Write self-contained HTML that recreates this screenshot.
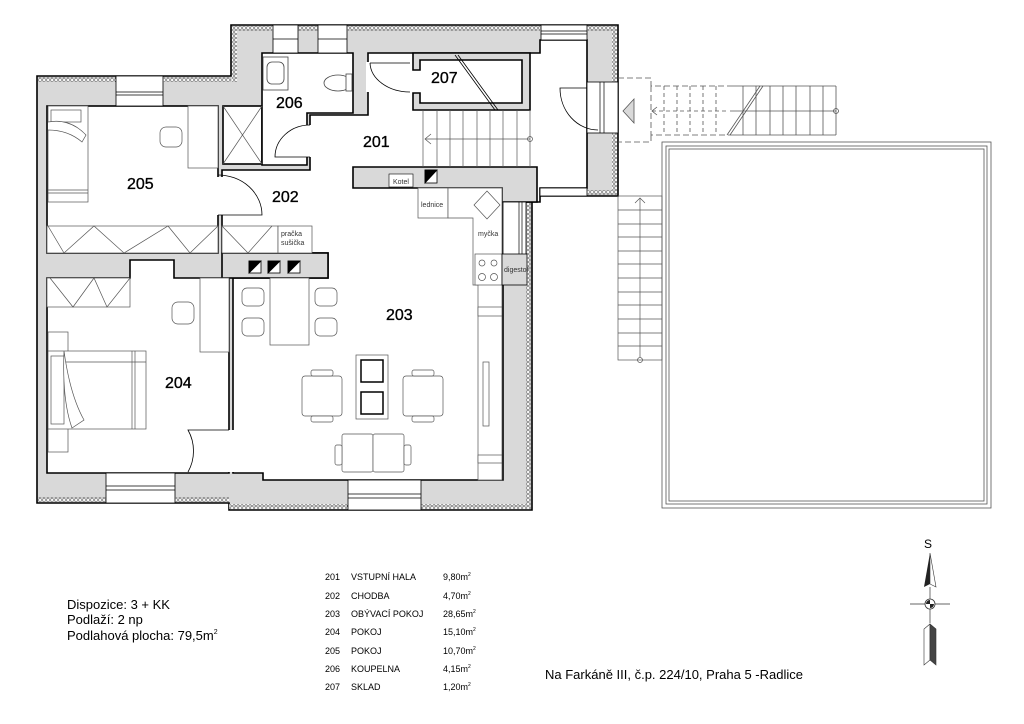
<!DOCTYPE html>
<html><head><meta charset="utf-8"><style>
html,body{margin:0;padding:0;background:#fff;}
svg{display:block;font-family:"Liberation Sans",Arial,sans-serif;}
</style></head><body>
<svg width="1024" height="724" viewBox="0 0 1024 724" xmlns="http://www.w3.org/2000/svg">
<defs>
<pattern id="h" width="4" height="4" patternUnits="userSpaceOnUse"><rect width="4" height="4" fill="#fff"/><circle cx="2" cy="2" r="1.3" fill="none" stroke="#444" stroke-width="0.7"/></pattern>
</defs>
<g stroke="#000" stroke-width="1.6" fill="#d9d9d9">
<polygon points="37,76 231,76 231,25 618,25 618,196 532,196 532,510 229,510 229,503 37,503"/>
</g>
<g fill="url(#h)" stroke="none">
<rect x="38" y="77" width="78" height="5"/>
<rect x="163" y="77" width="68" height="5"/>
<rect x="232" y="26" width="5" height="56"/>
<rect x="232" y="26" width="41" height="5"/>
<rect x="298" y="26" width="20" height="5"/>
<rect x="347" y="26" width="193" height="5"/>
<rect x="587" y="26" width="30" height="5"/>
<rect x="612" y="26" width="5" height="56"/>
<rect x="612" y="133" width="5" height="62"/>
<rect x="587" y="190" width="30" height="5"/>
<rect x="526" y="196" width="5" height="313"/>
<rect x="38" y="497" width="68" height="5"/>
<rect x="175" y="497" width="54" height="5"/>
<rect x="229" y="504" width="119" height="5"/>
<rect x="421" y="504" width="110" height="5"/>
</g>
<g stroke="#000" stroke-width="1.6" fill="#fff">
<rect x="47" y="106" width="171" height="147"/>
<rect x="223" y="106" width="39" height="58"/>
<polygon points="262,53 353,53 353,113 307,113 307,165 262,165"/>
<polygon points="222,170 310,170 310,115 368,115 368,53 540,53 540,40 587,40 587,188 540,188 540,202 503,202 503,480 263,480 263,473 233,473 233,278 328,278 328,253 222,253"/>
<polygon points="47,278 130,278 130,260 174,260 174,278 229,278 229,473 47,473"/>
</g>
<g stroke="#000" stroke-width="1.6">
<polygon points="413,53 530,53 530,110 413,110 413,93 420,93 420,103 522,103 522,60 420,60 420,70 413,70" fill="#d9d9d9"/>
</g>
<line x1="455" y1="55" x2="495" y2="110" stroke="#000" stroke-width="0.8"/>
<line x1="458" y1="55" x2="498" y2="110" stroke="#000" stroke-width="0.8"/>
<polygon points="353,167 537,167 537,202 502,202 502,188 353,188" fill="#d9d9d9" stroke="#000" stroke-width="1.6"/>
<rect x="222" y="253" width="106" height="25" fill="#d9d9d9" stroke="#000" stroke-width="1.6"/>
<g fill="#fff" stroke="none">
<rect x="216" y="177" width="8" height="38"/>
<rect x="305" y="125" width="7" height="32"/>
<rect x="227" y="430" width="8" height="42"/>
<rect x="366" y="62" width="4" height="30"/>
</g>
<g fill="#fff" stroke="#000" stroke-width="0.8">
<rect x="116" y="76" width="47" height="30"/>
<rect x="273" y="25" width="25" height="28"/>
<rect x="318" y="25" width="29" height="28"/>
<rect x="541" y="25" width="46" height="15"/>
<rect x="587" y="82" width="31" height="51"/>
<rect x="540" y="188" width="47" height="8"/>
<rect x="106" y="473" width="69" height="30"/>
<rect x="348" y="480" width="73" height="30"/>
<rect x="503" y="202" width="23" height="53"/>
</g>
<g stroke="#000" stroke-width="0.7">
<line x1="116" y1="92" x2="163" y2="92"/><line x1="116" y1="95" x2="163" y2="95"/>
<line x1="273" y1="39" x2="298" y2="39"/><line x1="318" y1="39" x2="347" y2="39"/>
<line x1="541" y1="31" x2="587" y2="31"/><line x1="541" y1="34" x2="587" y2="34"/>
<line x1="600" y1="82" x2="600" y2="133"/><line x1="604" y1="82" x2="604" y2="133"/>
<line x1="106" y1="486" x2="175" y2="486"/><line x1="106" y1="490" x2="175" y2="490"/>
<line x1="348" y1="494" x2="421" y2="494"/><line x1="348" y1="498" x2="421" y2="498"/>
<line x1="519" y1="202" x2="519" y2="255"/><line x1="522" y1="202" x2="522" y2="255"/>
</g>
<g fill="none" stroke="#000" stroke-width="0.8">
<path d="M218,215 L262,215 A44,40 0 0 0 218,175"/>
<path d="M310,157 L275,157 A35,32 0 0 1 310,125"/>
<path d="M229,430 L188,430 A41,42 0 0 1 188,472"/>
<path d="M370,63 L410,63 M370,63 A40,30 0 0 0 410,92"/>
<path d="M587,88 L560,88 A38,42 0 0 0 598,130"/>
</g>
<g stroke="#555" stroke-width="0.7" fill="none">
<line x1="423" y1="110" x2="423" y2="167"/><line x1="437" y1="110" x2="437" y2="167"/><line x1="450" y1="110" x2="450" y2="167"/><line x1="463" y1="110" x2="463" y2="167"/><line x1="477" y1="110" x2="477" y2="167"/><line x1="490" y1="110" x2="490" y2="167"/><line x1="503" y1="110" x2="503" y2="167"/><line x1="517" y1="110" x2="517" y2="167"/><line x1="530" y1="110" x2="530" y2="167"/>
<line x1="425" y1="139" x2="530" y2="139"/><circle cx="530" cy="139" r="2.5"/>
<path d="M431,134 L425,139 L431,144"/>
</g>
<g stroke="#555" stroke-width="0.7" fill="none"><line x1="223" y1="106" x2="262" y2="164"/><line x1="262" y1="106" x2="223" y2="164"/></g>
<g stroke="#444" stroke-width="0.8" fill="#fff">
<rect x="263" y="57" width="25" height="33"/><rect x="267" y="62" width="17" height="22" rx="5"/>
<ellipse cx="338" cy="83" rx="14" ry="8"/><rect x="346" y="74" width="6" height="17"/>
</g>
<g stroke="#555" stroke-width="0.7" fill="#fff">
<rect x="48" y="106" width="40" height="96"/>
<rect x="51" y="110" width="30" height="12"/>
<path d="M48,122 Q70,118 86,135 L82,142 Q68,130 48,130"/>
<line x1="48" y1="190" x2="88" y2="190"/><line x1="48" y1="193" x2="88" y2="193"/>
<rect x="188" y="106" width="30" height="62"/>
<rect x="160" y="127" width="22" height="20" rx="6"/>
<rect x="47" y="226" width="171" height="27"/>
<rect x="222" y="226" width="56" height="27"/>
<rect x="278" y="226" width="34" height="27"/>
<rect x="47" y="278" width="83" height="29"/>
<rect x="200" y="278" width="29" height="74"/>
<rect x="172" y="302" width="22" height="22" rx="6"/>
</g>
<g stroke="#555" stroke-width="0.7" fill="none">
<path d="M48,226 L64,253 L94,226 L124,253 L168,226 L190,253 L218,226"/>
<path d="M222,226 L248,253 L272,226"/>
<path d="M50,278 L73,307 L94,278 L107,307 L130,278"/>
</g>
<g stroke="#555" stroke-width="0.7" fill="#fff">
<rect x="48" y="332" width="20" height="120"/>
<rect x="48" y="351" width="98" height="78"/>
<rect x="51" y="356" width="13" height="68"/>
<path d="M64,351 Q70,395 84,420 L72,428 Q62,400 64,351"/>
<line x1="132" y1="351" x2="132" y2="429"/><line x1="135" y1="351" x2="135" y2="429"/>
<line x1="66" y1="362" x2="146" y2="362"/>
</g>
<g stroke="#000" stroke-width="0.8">
<rect x="249" y="261" width="12" height="12" fill="#fff"/><polygon points="249,261 261,261 249,273" fill="#000"/>
<rect x="268" y="261" width="12" height="12" fill="#fff"/><polygon points="268,261 280,261 268,273" fill="#000"/>
<rect x="288" y="261" width="12" height="12" fill="#fff"/><polygon points="288,261 300,261 288,273" fill="#000"/>
<rect x="425" y="170" width="12" height="13" fill="#fff"/><polygon points="425,170 437,170 425,183" fill="#000"/>
<rect x="389" y="174" width="24" height="13" fill="#fff" stroke-width="0.6"/>
</g>
<g stroke="#555" stroke-width="0.7" fill="#fff">
<rect x="418" y="188" width="30" height="30"/>
<polygon points="448,188 502,188 502,480 478,480 478,285 473,285 473,218 448,218"/>
<rect x="475" y="254" width="27" height="31"/>
<circle cx="482" cy="263" r="3"/><circle cx="494" cy="263" r="3"/><circle cx="482" cy="277" r="3.5"/><circle cx="494" cy="277" r="3.5"/>
<polygon points="487,191 500,205 487,219 474,205"/>
<rect x="478" y="307" width="24" height="9"/><rect x="478" y="455" width="24" height="8"/>
<rect x="483" y="362" width="6" height="64"/>
</g>
<rect x="502" y="254" width="25" height="31" fill="#d9d9d9" stroke="#000" stroke-width="0.8"/>
<g stroke="#555" stroke-width="0.7" fill="#fff">
<rect x="270" y="278" width="39" height="67"/>
<rect x="242" y="288" width="22" height="18" rx="5"/><rect x="242" y="318" width="22" height="18" rx="5"/>
<rect x="315" y="288" width="22" height="18" rx="5"/><rect x="315" y="318" width="22" height="18" rx="5"/>
<rect x="356" y="355" width="32" height="64"/>
<rect x="361" y="360" width="22" height="22" stroke="#000" stroke-width="1.5"/>
<rect x="361" y="392" width="22" height="22" stroke="#000" stroke-width="1.5"/>
<rect x="302" y="376" width="40" height="40" rx="3"/><rect x="311" y="370" width="22" height="6" rx="2"/><rect x="311" y="416" width="22" height="6" rx="2"/>
<rect x="403" y="376" width="40" height="40" rx="3"/><rect x="412" y="370" width="22" height="6" rx="2"/><rect x="412" y="416" width="22" height="6" rx="2"/>
<rect x="342" y="434" width="31" height="38" rx="2"/><rect x="373" y="434" width="31" height="38" rx="2"/>
<rect x="335" y="445" width="7" height="20" rx="2"/><rect x="404" y="445" width="7" height="20" rx="2"/>
</g>
<g font-size="16" fill="#000" stroke="#000" stroke-width="0.35">
<text x="127" y="189">205</text><text x="276" y="108">206</text><text x="363" y="147">201</text>
<text x="272" y="202">202</text><text x="386" y="320">203</text><text x="165" y="388">204</text><text x="431" y="83">207</text>
</g>
<g font-size="7" fill="#333">
<text x="393" y="184">Kotel</text><text x="421" y="207">lednice</text><text x="478" y="236">myčka</text>
<text x="504" y="272">digestoř</text><text x="281" y="236">pračka</text><text x="281" y="245">sušička</text>
</g>
<g stroke="#555" stroke-width="0.8" fill="none">
<path d="M618,78 L651,78 L651,86 L730,86 M651,86 L651,135 L730,135 M651,135 L651,142 L618,142" stroke-dasharray="6,3"/>
<g stroke-dasharray="4,3">
<line x1="664" y1="86" x2="664" y2="135"/><line x1="677" y1="86" x2="677" y2="135"/><line x1="690" y1="86" x2="690" y2="135"/><line x1="703" y1="86" x2="703" y2="135"/><line x1="716" y1="86" x2="716" y2="135"/>
<line x1="652" y1="111" x2="728" y2="111"/></g>
<line x1="730" y1="86" x2="836" y2="86"/><line x1="730" y1="135" x2="836" y2="135"/><line x1="836" y1="86" x2="836" y2="135"/>
<line x1="743" y1="86" x2="743" y2="135"/><line x1="756" y1="86" x2="756" y2="135"/><line x1="770" y1="86" x2="770" y2="135"/><line x1="783" y1="86" x2="783" y2="135"/><line x1="796" y1="86" x2="796" y2="135"/><line x1="810" y1="86" x2="810" y2="135"/><line x1="823" y1="86" x2="823" y2="135"/>
<line x1="730" y1="111" x2="836" y2="111"/><circle cx="836" cy="111" r="2.5"/>
<line x1="727" y1="135" x2="760" y2="86"/><line x1="730" y1="135" x2="763" y2="86"/>
<path d="M657,107 L652,111 L657,115"/>
</g>
<polygon points="623,111 634,99 634,123" fill="#d9d9d9" stroke="#555" stroke-width="0.8"/>
<g stroke="#555" stroke-width="0.7" fill="none">
<rect x="618" y="196" width="44" height="164"/>
<line x1="618" y1="210" x2="662" y2="210"/><line x1="618" y1="224" x2="662" y2="224"/><line x1="618" y1="237" x2="662" y2="237"/><line x1="618" y1="251" x2="662" y2="251"/><line x1="618" y1="264" x2="662" y2="264"/><line x1="618" y1="278" x2="662" y2="278"/><line x1="618" y1="292" x2="662" y2="292"/><line x1="618" y1="305" x2="662" y2="305"/><line x1="618" y1="319" x2="662" y2="319"/><line x1="618" y1="333" x2="662" y2="333"/><line x1="618" y1="346" x2="662" y2="346"/>
<line x1="640" y1="198" x2="640" y2="357"/><circle cx="640" cy="360" r="2.5"/>
<path d="M635,203 L640,198 L645,203"/>
</g>
<g fill="none" stroke="#555" stroke-width="0.8">
<rect x="662" y="142" width="329" height="366"/>
<rect x="666" y="146" width="321" height="358"/>
<rect x="669" y="149" width="315" height="352"/>
</g>
<text x="924" y="548" font-size="12">S</text>
<polygon points="930,553 924,587 930,584" fill="#222"/>
<polygon points="930,553 936,587 930,584" fill="#fff" stroke="#333" stroke-width="0.6"/>
<line x1="910" y1="604" x2="950" y2="604" stroke="#333" stroke-width="0.7"/>
<line x1="930" y1="587" x2="930" y2="623" stroke="#333" stroke-width="0.7"/>
<circle cx="930" cy="604" r="5" fill="#fff" stroke="#333" stroke-width="0.8"/>
<path d="M930,604 L926,604 A4,4 0 0 1 930,600 Z M930,604 L934,604 A4,4 0 0 1 930,608 Z" fill="#222"/>
<polygon points="930,624 924,629 924,665 930,660" fill="#fff" stroke="#333" stroke-width="0.6"/>
<polygon points="930,624 936,629 936,665 930,660" fill="#444" stroke="#333" stroke-width="0.6"/>
<g font-size="13" fill="#000">
<text x="67" y="609">Dispozice: 3 + KK</text>
<text x="67" y="624">Podlaží: 2 np</text>
<text x="67" y="640">Podlahová plocha: 79,5m<tspan font-size="7" dy="-6">2</tspan></text>
<text x="545" y="679">Na Farkáně III, č.p. 224/10, Praha 5 -Radlice</text>
</g>
<g font-size="9" fill="#000">
<text x="325" y="580">201</text><text x="351" y="580">VSTUPNÍ HALA</text><text x="443" y="580">9,80m<tspan font-size="5" dy="-4">2</tspan></text>
<text x="325" y="599">202</text><text x="351" y="599">CHODBA</text><text x="443" y="599">4,70m<tspan font-size="5" dy="-4">2</tspan></text>
<text x="325" y="617">203</text><text x="351" y="617">OBÝVACÍ POKOJ</text><text x="443" y="617">28,65m<tspan font-size="5" dy="-4">2</tspan></text>
<text x="325" y="635">204</text><text x="351" y="635">POKOJ</text><text x="443" y="635">15,10m<tspan font-size="5" dy="-4">2</tspan></text>
<text x="325" y="654">205</text><text x="351" y="654">POKOJ</text><text x="443" y="654">10,70m<tspan font-size="5" dy="-4">2</tspan></text>
<text x="325" y="672">206</text><text x="351" y="672">KOUPELNA</text><text x="443" y="672">4,15m<tspan font-size="5" dy="-4">2</tspan></text>
<text x="325" y="690">207</text><text x="351" y="690">SKLAD</text><text x="443" y="690">1,20m<tspan font-size="5" dy="-4">2</tspan></text>
</g>
</svg>
</body></html>
